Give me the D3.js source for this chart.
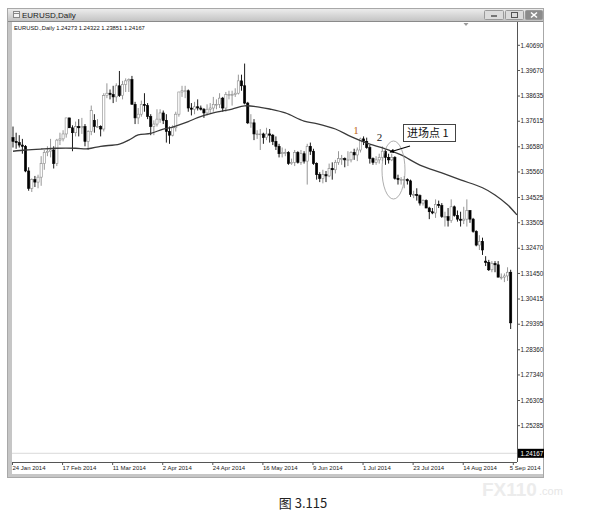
<!DOCTYPE html>
<html><head><meta charset="utf-8">
<script src="https://cdn.jsdelivr.net/npm/d3@7/dist/d3.min.js"></script>
<style>body{margin:0;background:#fff}svg{display:block}</style>
</head><body>
<svg id="c" width="606" height="519"></svg>
<script>
const opens=[1.3695,1.3680,1.3675,1.3665,1.3660,1.3560,1.3490,1.3525,1.3515,1.3535,
1.3590,1.3635,1.3640,1.3645,1.3590,1.3685,1.3690,1.3710,1.3775,1.3735,
1.3715,1.3740,1.3735,1.3740,1.3680,1.3720,1.3765,1.3740,1.3740,1.3730,
1.3865,1.3875,1.3870,1.3860,1.3905,1.3865,1.3910,1.3925,1.3930,1.3830,
1.3775,1.3790,1.3830,1.3825,1.3780,1.3740,1.3750,1.3770,1.3795,1.3765,
1.3720,1.3705,1.3735,1.3790,1.3880,1.3885,1.3885,1.3815,1.3810,1.3820,
1.3815,1.3810,1.3795,1.3810,1.3815,1.3830,1.3830,1.3855,1.3815,1.3870,
1.3870,1.3870,1.3875,1.3925,1.3905,1.3835,1.3755,1.3755,1.3710,1.3710,
1.3710,1.3695,1.3710,1.3705,1.3680,1.3660,1.3630,1.3635,1.3635,1.3590,
1.3595,1.3635,1.3595,1.3630,1.3600,1.3660,1.3640,1.3590,1.3545,1.3530,
1.3545,1.3540,1.3570,1.3565,1.3595,1.3610,1.3610,1.3605,1.3605,1.3635,
1.3625,1.3645,1.3690,1.3680,1.3655,1.3610,1.3595,1.3605,1.3615,1.3640,
1.3615,1.3605,1.3615,1.3530,1.3525,1.3525,1.3525,1.3520,1.3465,1.3465,
1.3460,1.3430,1.3440,1.3410,1.3395,1.3390,1.3425,1.3420,1.3375,1.3375,
1.3360,1.3415,1.3380,1.3365,1.3360,1.3365,1.3400,1.3365,1.3315,1.3260,
1.3275,1.3195,1.3190,1.3160,1.3185,1.3180,1.3130,1.3130,1.3135,1.3150];
const highs=[1.3740,1.3715,1.3705,1.3690,1.3665,1.3575,1.3530,1.3540,1.3545,1.3620,
1.3645,1.3660,1.3690,1.3660,1.3690,1.3715,1.3725,1.3775,1.3775,1.3745,
1.3760,1.3770,1.3775,1.3750,1.3725,1.3825,1.3790,1.3770,1.3745,1.3875,
1.3915,1.3890,1.3905,1.3915,1.3965,1.3925,1.3935,1.3935,1.3945,1.3840,
1.3815,1.3845,1.3875,1.3835,1.3790,1.3765,1.3810,1.3810,1.3805,1.3790,
1.3740,1.3745,1.3800,1.3880,1.3905,1.3905,1.3890,1.3835,1.3840,1.3850,
1.3825,1.3815,1.3830,1.3835,1.3860,1.3850,1.3875,1.3860,1.3880,1.3885,
1.3885,1.3895,1.3950,1.3950,1.3995,1.3840,1.3790,1.3770,1.3725,1.3730,
1.3715,1.3735,1.3730,1.3710,1.3700,1.3670,1.3655,1.3650,1.3640,1.3610,
1.3645,1.3640,1.3645,1.3640,1.3670,1.3675,1.3650,1.3595,1.3555,1.3565,
1.3560,1.3590,1.3595,1.3605,1.3640,1.3625,1.3615,1.3640,1.3640,1.3650,
1.3655,1.3695,1.3700,1.3695,1.3665,1.3615,1.3620,1.3630,1.3660,1.3650,
1.3630,1.3630,1.3620,1.3545,1.3535,1.3540,1.3530,1.3525,1.3480,1.3490,
1.3465,1.3445,1.3445,1.3415,1.3410,1.3445,1.3440,1.3430,1.3395,1.3410,
1.3445,1.3420,1.3400,1.3395,1.3415,1.3445,1.3400,1.3370,1.3320,1.3300,
1.3290,1.3215,1.3200,1.3195,1.3195,1.3195,1.3145,1.3145,1.3170,1.3160];
const lows=[1.3655,1.3650,1.3655,1.3630,1.3555,1.3480,1.3475,1.3495,1.3490,1.3500,
1.3565,1.3620,1.3615,1.3570,1.3580,1.3665,1.3680,1.3695,1.3735,1.3640,
1.3700,1.3700,1.3710,1.3660,1.3645,1.3705,1.3715,1.3735,1.3700,1.3720,
1.3855,1.3850,1.3835,1.3840,1.3860,1.3850,1.3880,1.3880,1.3830,1.3750,
1.3750,1.3780,1.3800,1.3770,1.3705,1.3705,1.3740,1.3755,1.3750,1.3675,
1.3670,1.3700,1.3720,1.3780,1.3860,1.3855,1.3800,1.3785,1.3790,1.3805,
1.3805,1.3775,1.3785,1.3795,1.3800,1.3810,1.3815,1.3800,1.3800,1.3850,
1.3825,1.3860,1.3870,1.3885,1.3830,1.3750,1.3735,1.3685,1.3690,1.3645,
1.3670,1.3685,1.3675,1.3665,1.3645,1.3615,1.3615,1.3620,1.3585,1.3585,
1.3580,1.3590,1.3585,1.3590,1.3505,1.3625,1.3585,1.3525,1.3515,1.3510,
1.3515,1.3535,1.3525,1.3550,1.3585,1.3585,1.3575,1.3580,1.3595,1.3605,
1.3600,1.3635,1.3665,1.3650,1.3590,1.3585,1.3585,1.3590,1.3600,1.3585,
1.3590,1.3600,1.3525,1.3505,1.3505,1.3490,1.3505,1.3455,1.3450,1.3440,
1.3420,1.3420,1.3410,1.3365,1.3385,1.3370,1.3410,1.3370,1.3335,1.3335,
1.3350,1.3375,1.3355,1.3335,1.3345,1.3335,1.3350,1.3310,1.3255,1.3240,
1.3220,1.3175,1.3155,1.3150,1.3150,1.3130,1.3120,1.3110,1.3115,1.2920];
const closes=[1.3680,1.3675,1.3665,1.3660,1.3560,1.3490,1.3525,1.3515,1.3535,1.3590,
1.3635,1.3640,1.3645,1.3590,1.3685,1.3690,1.3710,1.3775,1.3735,1.3715,
1.3740,1.3735,1.3740,1.3680,1.3720,1.3805,1.3740,1.3740,1.3730,1.3865,
1.3875,1.3870,1.3860,1.3905,1.3865,1.3910,1.3925,1.3930,1.3830,1.3775,
1.3790,1.3830,1.3825,1.3780,1.3740,1.3750,1.3770,1.3795,1.3765,1.3720,
1.3705,1.3735,1.3790,1.3880,1.3885,1.3885,1.3815,1.3810,1.3820,1.3815,
1.3810,1.3795,1.3810,1.3815,1.3830,1.3830,1.3855,1.3815,1.3870,1.3870,
1.3870,1.3875,1.3925,1.3905,1.3835,1.3755,1.3755,1.3710,1.3710,1.3710,
1.3695,1.3710,1.3705,1.3680,1.3660,1.3630,1.3635,1.3635,1.3590,1.3595,
1.3635,1.3595,1.3630,1.3600,1.3660,1.3640,1.3590,1.3545,1.3530,1.3545,
1.3540,1.3570,1.3565,1.3595,1.3610,1.3610,1.3605,1.3605,1.3635,1.3625,
1.3645,1.3690,1.3680,1.3655,1.3610,1.3595,1.3605,1.3615,1.3640,1.3615,
1.3605,1.3615,1.3530,1.3525,1.3525,1.3525,1.3520,1.3465,1.3465,1.3460,
1.3430,1.3440,1.3410,1.3395,1.3390,1.3425,1.3420,1.3375,1.3375,1.3360,
1.3415,1.3380,1.3365,1.3360,1.3365,1.3400,1.3365,1.3315,1.3260,1.3275,
1.3240,1.3190,1.3160,1.3185,1.3180,1.3130,1.3130,1.3135,1.3150,1.2945];
const maIdx=[0,4,9,14,20,24,28,34,37,40,44,48,51,56,59,64,70,74,79,82,87,93,97,103,108,113,119,124,130,137,143,150,154,158,161];
const maVal=[1.3640,1.3645,1.3649,1.3652,1.3652,1.3650,1.3660,1.3669,1.3685,1.3706,1.3712,1.3730,1.3738,1.3760,1.3776,1.3795,1.3811,1.3824,1.3818,1.3811,1.3795,1.3762,1.3752,1.3730,1.3699,1.3673,1.3650,1.3625,1.3584,1.3552,1.3524,1.3492,1.3463,1.3423,1.3382];
const priceTicks=[1.40690,1.39670,1.38635,1.37615,1.36580,1.35560,1.34525,1.33505,1.32470,1.31450,1.30415,1.29395,1.28360,1.27340,1.26305,1.25285];
const dateTickIdx=[0,16,32,48,64,80,96,112,128,144,160];
const dateTickLabels=["24 Jan 2014","17 Feb 2014","11 Mar 2014","2 Apr 2014","24 Apr 2014","16 May 2014","9 Jun 2014","1 Jul 2014","23 Jul 2014","14 Aug 2014","5 Sep 2014"];
const lastPrice=1.24167;
const headerText="EURUSD.,Daily  1.24273 1.24322 1.23851 1.24167";

const svg=d3.select("#c");
const x=d3.scaleLinear().domain([0,160]).range([13,13+160*3.13]);
const y=d3.scaleLinear().domain([1.25285,1.40690]).range([425.7,45.3]);
const L=12,R=517,T=22,B=462;

// window frame
const defs=svg.append("defs");
const g1=defs.append("linearGradient").attr("id","tb").attr("x1",0).attr("y1",0).attr("x2",0).attr("y2",1);
g1.append("stop").attr("offset","0").attr("stop-color","#ececec");
g1.append("stop").attr("offset","1").attr("stop-color","#c4c4c4");
svg.append("rect").attr("x",7.5).attr("y",8.5).attr("width",536).attr("height",469).attr("fill","#c6c6c6").attr("stroke","#a8a8a8");
svg.append("rect").attr("x",8).attr("y",9).attr("width",535).attr("height",12).attr("fill","url(#tb)");
svg.append("line").attr("x1",8).attr("x2",543).attr("y1",21.5).attr("y2",21.5).attr("stroke","#8a8a8a");
svg.append("rect").attr("x",L).attr("y",T).attr("width",543-L).attr("height",474-T).attr("fill","#fff");
// title icon + text
svg.append("rect").attr("x",13.5).attr("y",11.5).attr("width",6).attr("height",6).attr("fill","#f4f4f4").attr("stroke","#888");
svg.append("line").attr("x1",14).attr("x2",19).attr("y1",13.5).attr("y2",13.5).attr("stroke","#888");
svg.append("text").attr("x",22).attr("y",18).attr("font-family","Liberation Sans, Arial").attr("font-size",8).attr("fill","#222").text("EURUSD,Daily");
// buttons
[[484,20,"#dcdcdc"],[505,19,"#dcdcdc"],[525,18,"#8c8c8c"]].forEach(([bx,bw,c])=>{
  svg.append("rect").attr("x",bx+0.5).attr("y",10.5).attr("width",bw-1).attr("height",9).attr("rx",1).attr("fill",c).attr("stroke","#9a9a9a");
});
svg.append("line").attr("x1",491).attr("x2",497).attr("y1",16).attr("y2",16).attr("stroke","#555").attr("stroke-width",1.5);
svg.append("rect").attr("x",511.5).attr("y",12.5).attr("width",6).attr("height",5).attr("fill","none").attr("stroke","#555");
svg.append("path").attr("d","M531,12.5L537,17.5M537,12.5L531,17.5").attr("stroke","#fff").attr("stroke-width",1.6);

// header text
svg.append("text").attr("x",14).attr("y",29.5).attr("font-family","Liberation Sans, Arial").attr("font-size",5.8).attr("fill","#111").text(headerText);
// chart shift marker
svg.append("path").attr("d","M463.5,23L468.5,23L466,26Z").attr("fill","#999");

// frame lines
svg.append("line").attr("x1",R+0.5).attr("x2",R+0.5).attr("y1",T).attr("y2",B).attr("stroke","#555");
svg.append("line").attr("x1",L).attr("x2",R).attr("y1",B+0.5).attr("y2",B+0.5).attr("stroke","#555");

// price line
svg.append("line").attr("x1",L).attr("x2",R).attr("y1",y(lastPrice)).attr("y2",y(lastPrice)).attr("stroke","#cfcfcf").attr("stroke-width",0.8);

// price axis
const pa=svg.append("g");
priceTicks.forEach(v=>{
  pa.append("line").attr("x1",R).attr("x2",R+3).attr("y1",y(v)).attr("y2",y(v)).attr("stroke","#555");
  pa.append("text").attr("x",R+3.5).attr("y",y(v)+2.2).attr("font-family","Liberation Sans, Arial").attr("font-size",6.3).attr("fill","#222").text(v.toFixed(5));
});
pa.append("rect").attr("x",R+1).attr("y",y(lastPrice)-4.5).attr("width",26).attr("height",9).attr("fill","#000");
pa.append("text").attr("x",R+3.5).attr("y",y(lastPrice)+2.2).attr("font-family","Liberation Sans, Arial").attr("font-size",6.3).attr("fill","#fff").text(lastPrice.toFixed(5));

// date axis
const da=svg.append("g");
dateTickIdx.forEach((i,k)=>{
  da.append("line").attr("x1",x(i)-0.5).attr("x2",x(i)-0.5).attr("y1",B).attr("y2",B+3).attr("stroke","#555");
  da.append("text").attr("x",x(i)-(k===dateTickIdx.length-1?4:0.5)).attr("y",B+8).attr("font-family","Liberation Sans, Arial").attr("font-size",6).attr("fill","#222").text(dateTickLabels[k]);
});

// candles
const bars=d3.range(opens.length).map(i=>({i,o:opens[i],h:highs[i],l:lows[i],c:closes[i]}));
const cg=svg.append("g");
cg.selectAll("line.w").data(bars).join("line").attr("class","w")
  .attr("x1",d=>x(d.i)).attr("x2",d=>x(d.i)).attr("y1",d=>y(d.h)).attr("y2",d=>y(d.l))
  .attr("stroke",d=>d.c<d.o?"#000":"#8a8a8a").attr("stroke-width",0.9);
cg.selectAll("rect.b").data(bars).join("rect").attr("class","b")
  .attr("x",d=>x(d.i)-1.1).attr("width",2.2)
  .attr("y",d=>y(Math.max(d.o,d.c)))
  .attr("height",d=>Math.max(0.8,Math.abs(y(d.o)-y(d.c))))
  .attr("fill",d=>d.c<d.o?"#000":"#fff")
  .attr("stroke",d=>d.c<d.o?"#000":"#8a8a8a").attr("stroke-width",0.6);

// moving average
const line=d3.line().x((d,k)=>x(maIdx[k])).y(d=>y(d)).curve(d3.curveCatmullRom);
svg.append("path").attr("d",line(maVal)).attr("fill","none").attr("stroke","#3a3a3a").attr("stroke-width",1.3);

// annotations
svg.append("text").attr("x",356).attr("y",134).attr("text-anchor","middle").attr("font-family","Liberation Serif, serif").attr("font-size",11).attr("fill","#c0661a").text("1");
svg.append("text").attr("x",379.5).attr("y",141).attr("text-anchor","middle").attr("font-family","Liberation Serif, serif").attr("font-size",11).attr("fill","#222").text("2");
svg.append("ellipse").attr("cx",393.5).attr("cy",170).attr("rx",11.5).attr("ry",29).attr("fill","none").attr("stroke","#999").attr("stroke-width",0.8);
svg.append("rect").attr("x",403.5).attr("y",124.5).attr("width",52).attr("height",17).attr("fill","#fff").attr("stroke","#444");
svg.append("text").attr("x",407).attr("y",137).attr("font-family","Noto Sans CJK SC, sans-serif").attr("font-size",11).attr("fill","#111").text("进场点 1");
defs.append("marker").attr("id","ah").attr("viewBox","0 0 10 10").attr("refX",9).attr("refY",5).attr("markerWidth",6).attr("markerHeight",4).attr("orient","auto")
  .append("path").attr("d","M0,0L10,5L0,10Z").attr("fill","#000");
svg.append("line").attr("x1",410).attr("y1",146).attr("x2",390).attr("y2",152).attr("stroke","#000").attr("stroke-width",1.1).attr("marker-end","url(#ah)");

// watermark + caption
svg.append("text").attr("x",482).attr("y",496).attr("font-family","Liberation Sans, Arial").attr("font-weight","bold").attr("font-size",19).attr("fill","#ececec").text("FX110");
svg.append("text").attr("x",539).attr("y",495).attr("font-family","Liberation Sans, Arial").attr("font-size",11).attr("fill","#e6e6e6").text(".com");
svg.append("text").attr("x",303).attr("y",508).attr("text-anchor","middle").attr("font-family","Noto Sans CJK SC, sans-serif").attr("font-size",13).attr("fill","#222").text("图 3.115");
</script>
</body></html>
